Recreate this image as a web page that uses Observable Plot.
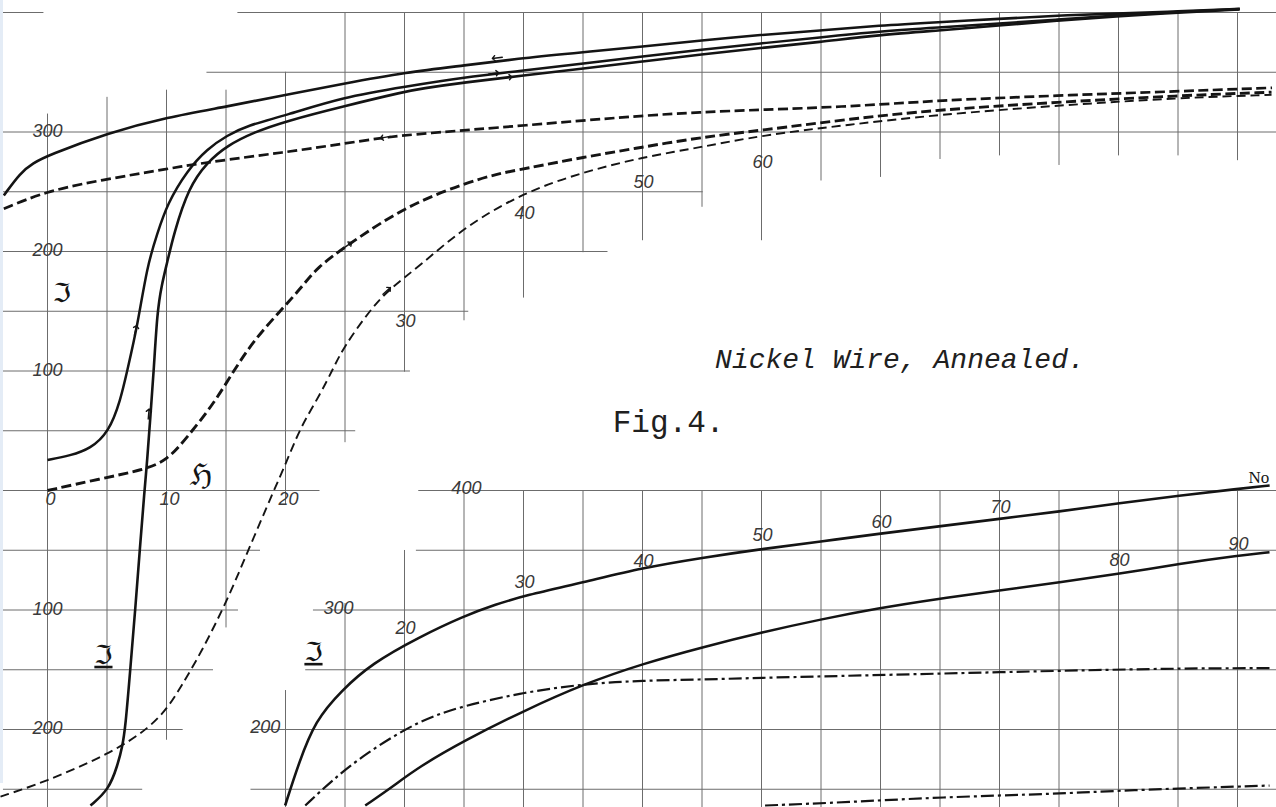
<!DOCTYPE html>
<html>
<head>
<meta charset="utf-8">
<script src="https://cdn.jsdelivr.net/npm/d3@7"></script>
<script src="https://cdn.jsdelivr.net/npm/@observablehq/plot@0.6"></script>
<style>
  html, body { margin: 0; padding: 0; background: #fff; }
  #chart { position: relative; width: 1276px; height: 807px; overflow: hidden; }
  #edge { position: absolute; left: 0; top: 0; width: 3px; height: 783px; background: #e4ecf6; }
</style>
</head>
<body>
<div id="chart"><div id="edge"></div></div>
<script>
// ---------------------------------------------------------------
// Nickel wire, annealed: magnetisation ℑ against field ℌ.
// Upper figure: loops for the low-field range, [ℌ, ℑ] pairs.
// ---------------------------------------------------------------
const loopDescending = [[-3.67,246.9],[-2.27,266.1],[-1.2,274],[0,280.3],[5.1,299.3],[10.06,312.4],[15.1,321.3],[20,331.1],[24.8,340.3],[30.2,350],[35,355.6],[40,362],[45,366.8],[50,371.5],[55,376.6],[59.9,381.3],[64.9,384.9],[69.9,389.1],[74.8,391.9],[80,394.7],[84.9,397.5],[89.7,399],[95,401],[100.2,403]];

const loopAscending = [[3.61,-263.6],[5.15,-250.5],[5.88,-230.1],[6.28,-214.8],[6.55,-198.1],[6.97,-147.9],[7.39,-97.7],[7.76,-48.8],[8.15,0],[8.38,25.1],[8.66,64.2],[8.93,100.4],[9.22,149.2],[9.58,171.5],[10.06,190.8],[10.61,214.8],[11.87,253.8],[13.42,274.7],[15.1,288.7],[17.34,299.8],[20,309],[24.76,321.3],[30.17,334.1],[31.34,336.2],[34.96,341.4],[40,347.3],[45.04,353.1],[50,359],[54.96,364.9],[59.92,370.3],[64.87,375.3],[69.92,381.2],[74.79,384.9],[80,389.1],[84.87,393.3],[89.75,396.7],[95.04,400],[100.17,402.5]];

const fromRemanence = [[0,25.5],[1.93,29.3],[3.61,34.9],[5.15,48.8],[6.13,75.3],[6.7,100.4],[7.54,136.7],[8.38,188.3],[9.22,214.8],[10.06,239.9],[11.74,267.8],[13.42,285.9],[15.1,297.1],[16.78,305.4],[20,313.8],[24.76,329.1],[30.17,338.1],[34.96,345.6],[40,351.5],[45.04,357.3],[50,363.2],[54.96,369],[59.92,374.1],[64.87,379.1],[69.92,384.1],[74.79,387.4],[80,390.8],[84.87,394.1],[89.75,397.5],[95.04,400.4],[100.17,402.9]];

const dashedDescending = [[-3.67,235.7],[0,251],[5.1,260.8],[10.1,269.2],[13.4,274.7],[20,283.1],[24.8,290.1],[28.4,295.6],[31.3,298.5],[40,305.4],[50,313.8],[54.9,316.6],[59.9,318.6],[67.5,321.3],[74.8,326.4],[84.8,330.5],[95.1,334.1],[102.9,337]];

const dashedVirgin = [[0,0],[4.45,9.8],[8.09,17.3],[10.06,25.1],[11.74,44.6],[13.97,72.6],[15.66,100.4],[17.34,125.5],[19.58,150.6],[21.26,168.8],[22.66,186.9],[25.18,205],[28.26,225.9],[31.34,242.7],[34.98,256.7],[37.79,265],[40.03,269.2],[45.02,278.9],[49.97,287.3],[54.93,295.6],[59.92,301.3],[67.48,311],[74.76,318.6],[84.85,324.9],[95.13,330.5],[102.86,333.3]];

const dashedAscending = [[-3.95,-256.1],[-0.25,-244.1],[5.29,-220.1],[8.66,-198.3],[10.34,-178.5],[11.18,-164.6],[12.86,-136.7],[15.1,-92.1],[16.92,-48.8],[19.02,0],[20.14,25.1],[21.26,53],[22.94,80.9],[24.06,103.2],[24.9,119.9],[26.87,147.9],[28.55,167.4],[31.34,188.3],[34.98,220.3],[40.03,249.6],[45.02,266.4],[49.97,278.9],[54.93,287.3],[59.92,297.1],[67.48,306.3],[74.76,314.4],[84.85,322.2],[95.13,328.6],[102.86,331.1]];

// Direction marks on the branches: [ℌ, ℑ, heading in degrees]
const branchArrows = [[7.4,134,13],[8.5,64,5],[25.2,205,55],[28.5,167,48],[37.8,362,-97],[37.5,349,83],[38.6,345.6,83],[28.4,295.6,-100]];

// ---------------------------------------------------------------
// Lower figure: the higher-field range, [ℌ, ℑ] pairs.
// ---------------------------------------------------------------
const highFieldA = [[9.97,136.4],[11.1,171.5],[12.5,207.5],[14.7,232.6],[17.25,255.2],[21.2,277.2],[25.0,295],[27.6,304.4],[30.1,312.1],[35.1,323.3],[40,335.3],[45,343.7],[50.1,351.2],[55,357.3],[59.8,363.8],[64.9,369.9],[70,376.3],[75,382.4],[80.1,389.4],[85.1,395.8],[90.1,401.4],[92.7,404.2]];
const highFieldB = [[16.7,136.4],[18.93,151.7],[21.18,168.5],[25.04,190.8],[30.08,215.9],[35.1,238.2],[40,255],[45.04,268.9],[50.08,281.4],[55,292.2],[59.77,301.4],[64.87,309.4],[70,316.3],[75.04,323.3],[80.08,330.3],[85.13,338.7],[90.17,345.6],[92.69,348.4]];
const highFieldC = [[11.66,136.4],[13.89,157.3],[16.7,179.7],[21.18,207.5],[25.04,220.1],[30.08,231.2],[35.1,238.2],[40,241],[45.04,241.8],[50.08,243.3],[55,244.4],[70,248],[85.13,251.3],[92.69,251.3]];
const highFieldD = [[50.3,136.4],[57.3,139.2],[64.87,143.3],[75.04,146.2],[80.08,149],[92.69,153.1]];

// ---------------------------------------------------------------
// Ruled paper: ℌ lines [ℌ, ℑ from, ℑ to] and ℑ lines [ℑ, ℌ from, ℌ to]
// (null = runs to the edge of the sheet)
// ---------------------------------------------------------------
const upperRulesH = [[0,null,315],[5,null,329],[10,-209,335],[15,-115,335],[20,-12,350],[25,40,400],[30,99,400],[35,142,400],[40,161,400],[45,199,400],[50,209,400],[55,237,400],[60,209,400],[65,259,400],[70,262,400],[75,277,400],[80,280,400],[85,272,400],[90,280,400],[95,280,400],[100,276,400]];
const upperRulesI = [[400,16,null],[400,-3.7,-0.3],[350,13.4,null],[300,-3.7,null],[250,-3.7,55.1],[200,-3.7,47.1],[150,-3.7,35.4],[100,-3.7,30.5],[50,-3.7,25.9],[0,-3.7,22.9],[-50,-3.7,17.9],[-100,-3.7,16.05],[-150,-3.7,13.95],[-200,-3.7,11.4],[-250,-3.7,8.0]];
const lowerRulesH = [[10,null,232.6],[15,null,305.4],[20,null,349.8],[25,null,400],[30,null,400],[35,null,400],[40,null,400],[45,null,400],[50,null,400],[55,null,400],[60,null,400],[65,null,400],[70,null,400],[75,null,400],[80,null,400],[85,null,400],[90,null,400]];
const lowerRulesI = [[400,21.2,null],[350,21.0,null],[300,12.35,null],[250,11.7,null],[200,7.2,null],[150,7.1,null]];

// Scale figures written on the sheet
const upperIFigures = [300, 200, 100, -100, -200];
const upperHAxisFigures = [0, 10, 20];
const upperHStepFigures = [30, 40, 50, 60];
const lowerIFigures = [400, 300, 200];
const lowerHFigures = [20, 30, 40, 50, 60, 70, 80, 90];
const titleText = "Nickel Wire, Annealed.";
const figureText = "Fig.4.";

// ---------------------------------------------------------------
// Layout of the sheet
// ---------------------------------------------------------------
const W = 1276, Ht = 807;
const PX_PER_H = 11.9, PX_PER_I = 1.195;   // drawing scale of both figures
const ORIGIN_X = 47, ORIGIN_Y = 490;        // where ℌ = 0, ℑ = 0 of the upper figure sits
const xMin = -ORIGIN_X / PX_PER_H, xMax = xMin + W / PX_PER_H;
const yMin = (ORIGIN_Y - Ht) / PX_PER_I, yMax = ORIGIN_Y / PX_PER_I;
// the lower figure shares the ruling, shifted by 10 in ℌ and 400 in ℑ
const LOW_DH = 10, LOW_DI = -400;

const INK = "#141414", RULE = "#6c6c6c", FIG = "#3a3a3a";

const xy = d => ({H: d[0], I: d[1]});
const lowXY = d => ({H: d[0] + LOW_DH, I: d[1] + LOW_DI});
const line = (pts, opts) => Plot.line(pts, {x: "H", y: "I", curve: "basis", stroke: INK, strokeLinecap: "butt", strokeLinejoin: "round", ...opts});

const rulesV = [
  ...upperRulesH.map(([h, a, b]) => ({H: h, I1: a ?? yMin, I2: b ?? yMax})),
  ...lowerRulesH.map(([h, a, b]) => ({H: h + LOW_DH, I1: (a == null ? yMin : a + LOW_DI), I2: (b == null ? yMax : b + LOW_DI)}))
];
const rulesHz = [
  ...upperRulesI.map(([i, a, b]) => ({I: i, H1: a ?? xMin, H2: b ?? xMax})),
  ...lowerRulesI.map(([i, a, b]) => ({I: i + LOW_DI, H1: (a == null ? xMin : a + LOW_DH), H2: (b == null ? xMax : b + LOW_DH)}))
];

// ℑ level at which each stepped ℌ figure is written
const upperHStepRow = {30: 142, 40: 232, 50: 258, 60: 275};
const lowerHRow = {20: 284.5, 30: 323.3, 40: 340.6, 50: 362.3, 60: 373.5, 70: 386, 80: 341.4, 90: 355.4};
const lowerIColumn = {400: 25.2, 300: 14.45, 200: 8.3};

const numberStyle = {fontFamily: "Liberation Sans, Arial, sans-serif", fontStyle: "italic", fontSize: 18, fill: FIG};

const plot = Plot.plot({
  width: W, height: Ht, margin: 0,
  style: {background: "transparent", overflow: "visible"},
  x: {domain: [xMin, xMax], axis: null},
  y: {domain: [yMin, yMax], axis: null},
  marks: [
    // ruling
    Plot.ruleX(rulesV, {x: "H", y1: "I1", y2: "I2", stroke: RULE, strokeWidth: 1}),
    Plot.ruleY(rulesHz, {y: "I", x1: "H1", x2: "H2", stroke: RULE, strokeWidth: 1}),

    // upper figure
    line(loopDescending.map(xy), {strokeWidth: 2.6}),
    line(loopAscending.map(xy), {strokeWidth: 2.6}),
    line(fromRemanence.map(xy), {strokeWidth: 2.5}),
    line(dashedDescending.map(xy), {strokeWidth: 2.7, strokeDasharray: "10,4.5"}),
    line(dashedVirgin.map(xy), {strokeWidth: 2.9, strokeDasharray: "10,4.5"}),
    line(dashedAscending.map(xy), {strokeWidth: 1.9, strokeDasharray: "9,5"}),
    Plot.vector(branchArrows, {x: d => d[0], y: d => d[1], rotate: d => d[2], length: 10, r: 4.5, anchor: "middle", stroke: INK, strokeWidth: 1.4}),

    // lower figure
    line(highFieldA.map(lowXY), {strokeWidth: 2.6}),
    line(highFieldB.map(lowXY), {strokeWidth: 2.5}),
    line(highFieldC.map(lowXY), {strokeWidth: 2.2, strokeDasharray: "13,4,3,4"}),
    line(highFieldD.map(lowXY), {strokeWidth: 2.2, strokeDasharray: "13,4,3,4"}),

    // scale figures, upper
    Plot.text(upperIFigures, {x: 0, y: d => d, text: d => String(Math.abs(d)), dy: -1, ...numberStyle}),
    Plot.text(upperHAxisFigures, {x: d => d, y: 0, dy: 9, dx: 3, text: d => String(d), ...numberStyle}),
    Plot.text(upperHStepFigures, {x: d => d, y: d => upperHStepRow[d], dx: 1, text: d => String(d), ...numberStyle}),
    // scale figures, lower
    Plot.text(lowerIFigures, {x: d => lowerIColumn[d] + LOW_DH, y: d => d + LOW_DI, dy: -2, text: d => String(d), ...numberStyle}),
    Plot.text(lowerHFigures, {x: d => d + LOW_DH, y: d => lowerHRow[d] + LOW_DI, dx: 1, text: d => String(d), ...numberStyle}),
    Plot.text(["No"], {x: 91.8 + LOW_DH, y: 410.9 + LOW_DI, text: d => d, fontFamily: "Liberation Serif, serif", fontSize: 17, fill: INK}),

    // symbols
    Plot.text(["ℑ"], {x: 1.2, y: 165, text: d => d, fontFamily: "DejaVu Sans", fontSize: 26, fill: INK}),
    Plot.text(["ℌ"], {x: 12.9, y: 12.5, text: d => d, fontFamily: "DejaVu Sans", fontSize: 30, fill: INK}),
    Plot.text(["ℑ", "ℑ"], {x: (d, i) => [4.7, 12.35 + LOW_DH][i], y: (d, i) => [-138, 264.4 + LOW_DI][i], text: d => d, fontFamily: "DejaVu Sans", fontSize: 26, fill: INK}),

    // legend of the plate
    Plot.text([titleText], {x: 56.1, y: 110, text: d => d, textAnchor: "start", fontFamily: "Liberation Mono, monospace", fontStyle: "italic", fontSize: 28, fill: "#202020"}),
    Plot.text([figureText], {x: 47.5, y: 57, text: d => d, textAnchor: "start", fontFamily: "Liberation Mono, monospace", fontSize: 31, fill: "#202020"})
  ]
});

// the two lower ℑ symbols are underlined on the plate
d3.select(plot).selectAll("text")
  .filter(function () { return this.textContent === "ℑ"; })
  .filter((d, i) => i > 0)
  .attr("text-decoration", "underline")
  .style("text-decoration", "underline");

document.getElementById("chart").prepend(plot);
</script>
</body>
</html>
